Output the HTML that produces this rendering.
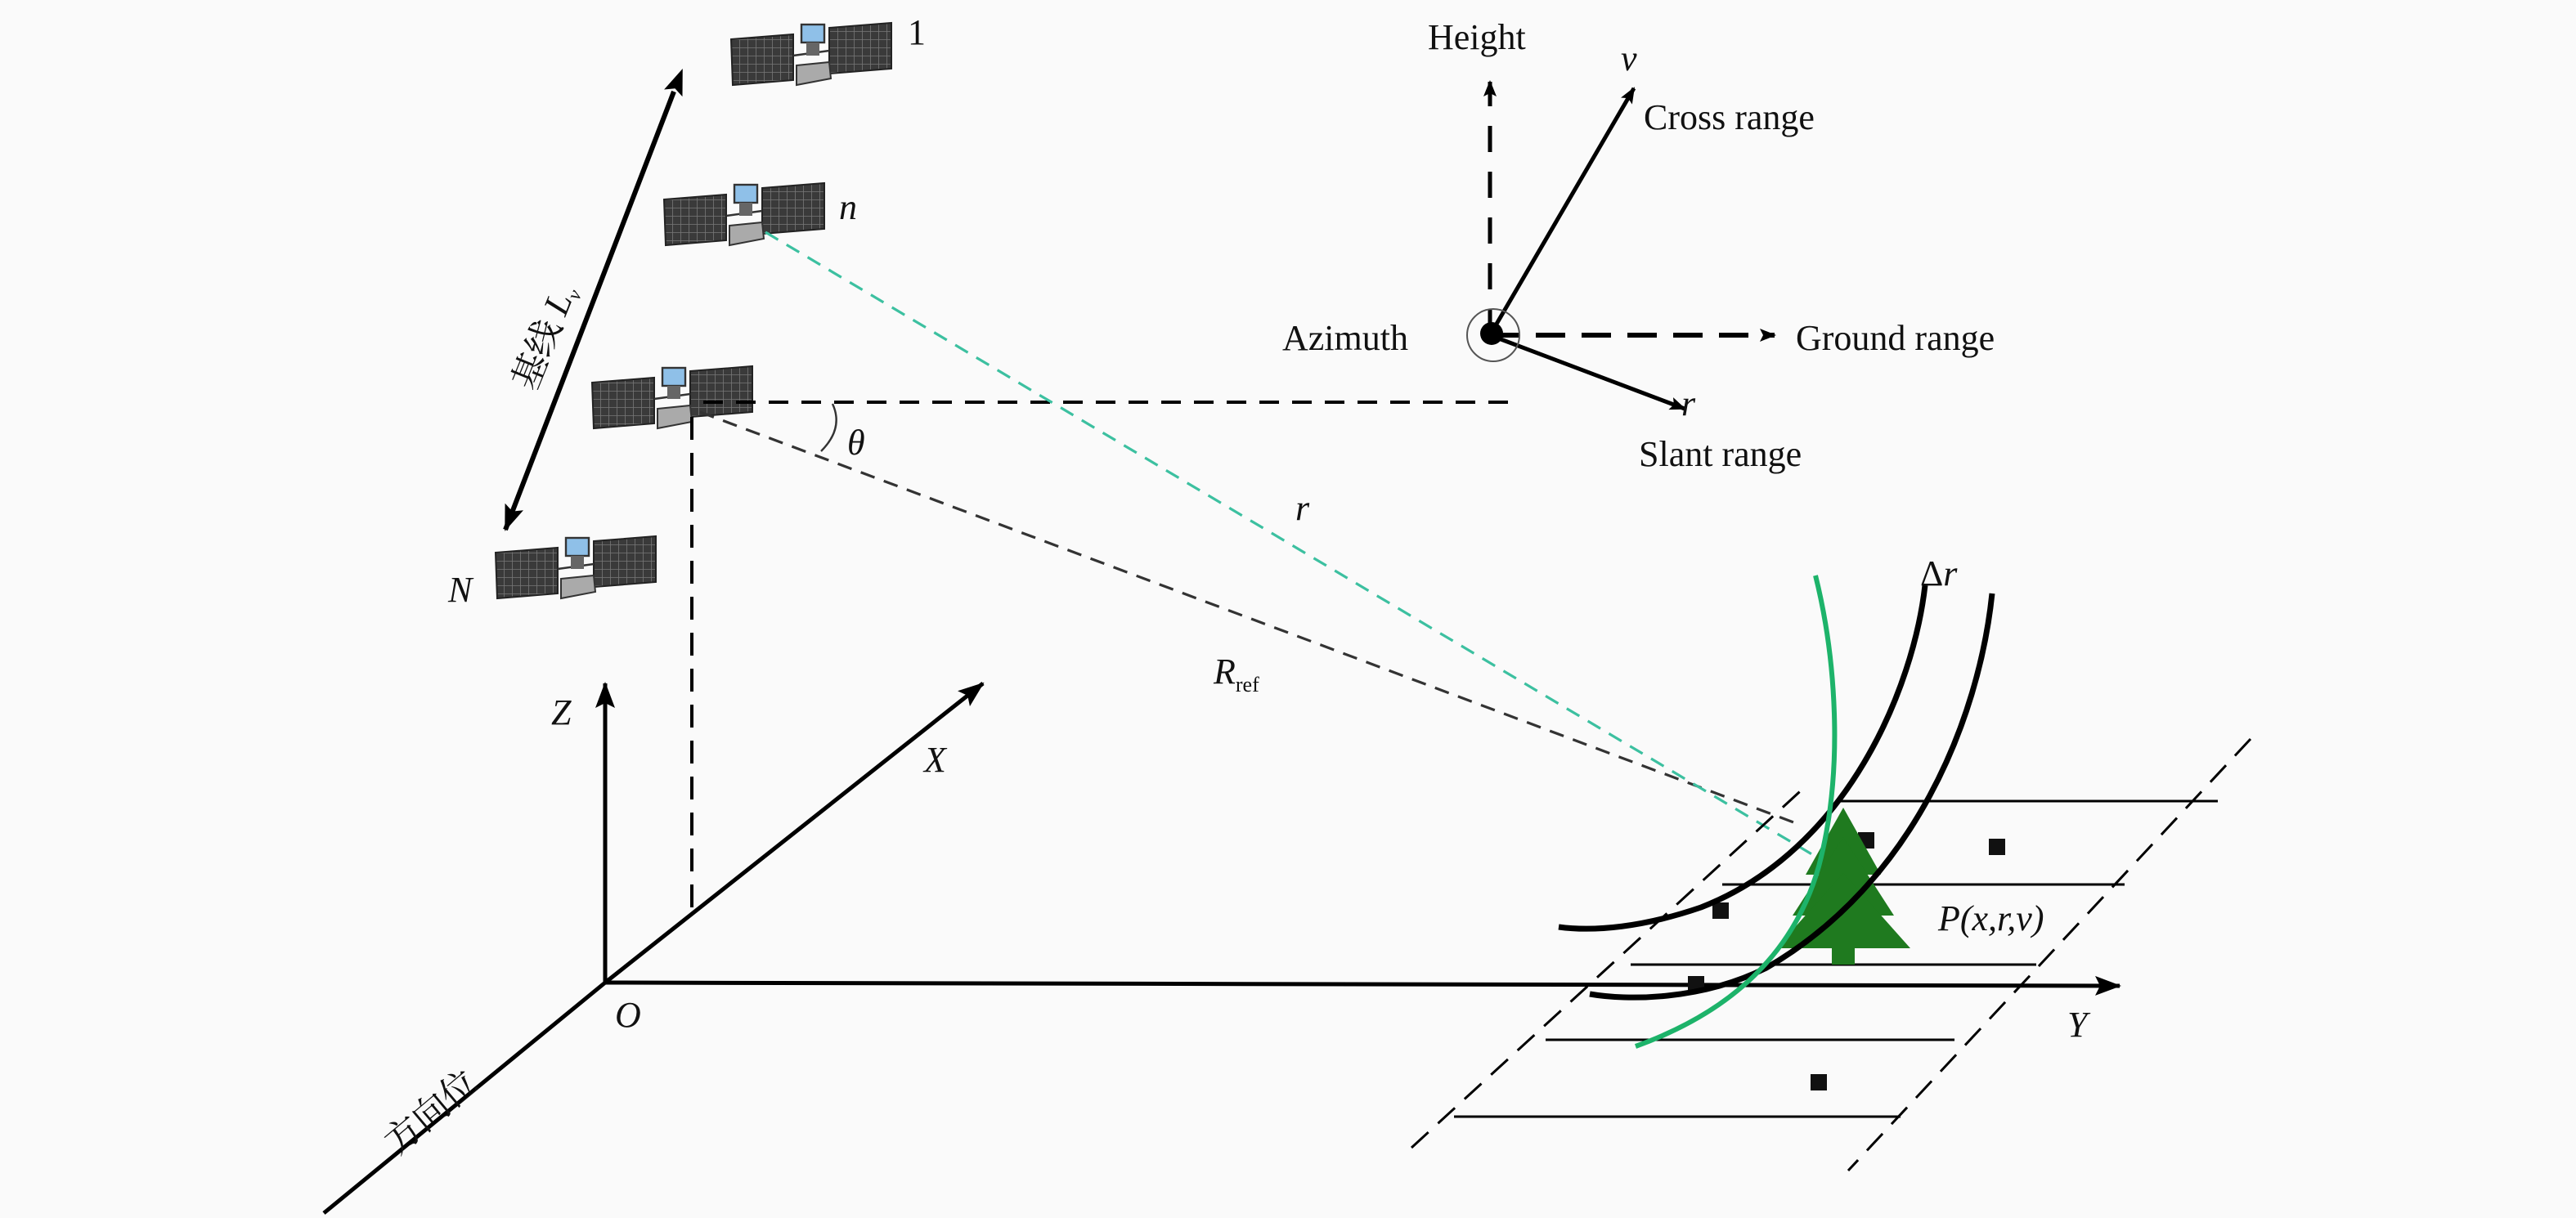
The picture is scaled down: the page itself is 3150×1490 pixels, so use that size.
<!DOCTYPE html>
<html><head><meta charset="utf-8"><style>
html,body{margin:0;padding:0;background:#fafafa;}
svg{display:block;}
text{font-family:"Liberation Serif","Noto Serif CJK SC",serif;fill:#111;}
.it{font-style:italic;}
</style></head><body>
<svg width="3150" height="1490" viewBox="0 0 1575 745" xmlns="http://www.w3.org/2000/svg">
<defs>
<marker id="ah" markerWidth="10" markerHeight="8" refX="9" refY="4" orient="auto" markerUnits="userSpaceOnUse"><path d="M0,0 L10,4 L0,8 L2,4 Z" fill="#000"/></marker>
<marker id="ahb" markerWidth="16" markerHeight="12" refX="15" refY="6" orient="auto" markerUnits="userSpaceOnUse"><path d="M0,0 L16,6 L0,12 L3,6 Z" fill="#000"/></marker>
<marker id="ahs" markerWidth="16" markerHeight="12" refX="1" refY="6" orient="auto-start-reverse" markerUnits="userSpaceOnUse"><path d="M0,0 L16,6 L0,12 L3,6 Z" fill="#000"/></marker>
<pattern id="grid" width="5" height="5" patternUnits="userSpaceOnUse"><rect width="5" height="5" fill="#3a3a3a"/><path d="M0,0H5M0,0V5" stroke="#777" stroke-width="0.8"/></pattern>
<g id="sat">
  <polygon points="0,10 38,7 38,35 1,38" fill="url(#grid)" stroke="#222" stroke-width="1"/>
  <polygon points="60,3 98,0 98,28 60,31" fill="url(#grid)" stroke="#222" stroke-width="1"/>
  <line x1="38" y1="20" x2="60" y2="17" stroke="#333" stroke-width="1.2"/>
  <rect x="43" y="1" width="14" height="11" fill="#8fc0e8" stroke="#333" stroke-width="1.2"/>
  <rect x="46" y="12" width="8" height="8" fill="#666"/>
  <polygon points="40,26 60,24 61,34 40,38" fill="#aaa" stroke="#333" stroke-width="1"/>
</g>
</defs>
<rect width="1575" height="745" fill="#fafafa"/>

<use href="#sat" x="447" y="14"/>
<use href="#sat" x="406" y="112"/>
<use href="#sat" x="362" y="224"/>
<use href="#sat" x="303" y="328"/>
<text x="555" y="27" font-size="22">1</text>
<text x="513" y="134" font-size="22" class="it">n</text>
<text x="274" y="368" font-size="22" class="it">N</text>

<line x1="412" y1="56" x2="309" y2="324" stroke="#000" stroke-width="3" marker-start="url(#ahs)" marker-end="url(#ahb)"/>
<text transform="translate(327,240) rotate(-68)" font-size="22">基线 <tspan class="it">L</tspan><tspan font-size="12" dy="4" class="it">v</tspan></text>

<line x1="430" y1="246" x2="930" y2="246" stroke="#000" stroke-width="2" stroke-dasharray="12,8"/>
<line x1="423" y1="255" x2="423" y2="562" stroke="#000" stroke-width="2" stroke-dasharray="14,8"/>
<line x1="428" y1="252" x2="1102" y2="505" stroke="#333" stroke-width="1.6" stroke-dasharray="9,6"/>
<line x1="468" y1="142" x2="1112" y2="525" stroke="#3cc0a0" stroke-width="1.6" stroke-dasharray="9,6"/>
<path d="M509,247 Q516,262 502,276" fill="none" stroke="#333" stroke-width="1.2"/>
<text x="518" y="278" font-size="22" class="it">θ</text>
<text x="792" y="318" font-size="22" class="it">r</text>
<text x="742" y="418" font-size="22" class="it">R<tspan font-size="13" dy="5" font-style="normal">ref</tspan></text>

<line x1="370" y1="601" x2="370" y2="418" stroke="#000" stroke-width="2.5" marker-end="url(#ahb)"/>
<line x1="370" y1="601" x2="601" y2="418" stroke="#000" stroke-width="2.5" marker-end="url(#ahb)"/>
<line x1="370" y1="601" x2="1296" y2="603" stroke="#000" stroke-width="2.5" marker-end="url(#ahb)"/>
<line x1="370" y1="601" x2="198" y2="742" stroke="#000" stroke-width="2.5"/>
<text x="337" y="443" font-size="22" class="it">Z</text>
<text x="565" y="472" font-size="22" class="it">X</text>
<text x="1264" y="634" font-size="22" class="it">Y</text>
<text x="376" y="628" font-size="22" class="it">O</text>
<text transform="translate(243,707) rotate(-40)" font-size="22">方向位</text>

<line x1="911" y1="205" x2="911" y2="50" stroke="#000" stroke-width="2.5" stroke-dasharray="16,12" marker-end="url(#ah)"/>
<line x1="911" y1="205" x2="999" y2="54" stroke="#000" stroke-width="2.5" marker-end="url(#ah)"/>
<line x1="911" y1="205" x2="1085" y2="205" stroke="#000" stroke-width="3" stroke-dasharray="18,10" marker-end="url(#ah)"/>
<line x1="911" y1="205" x2="1030" y2="250" stroke="#000" stroke-width="2.5" marker-end="url(#ah)"/>
<circle cx="913" cy="205" r="16" fill="none" stroke="#555" stroke-width="1"/>
<circle cx="912" cy="204" r="7" fill="#000"/>
<text x="873" y="30" font-size="22">Height</text>
<text x="991" y="43" font-size="22" class="it">v</text>
<text x="1005" y="79" font-size="22">Cross range</text>
<text x="784" y="214" font-size="22">Azimuth</text>
<text x="1098" y="214" font-size="22">Ground range</text>
<text x="1028" y="254" font-size="22" class="it">r</text>
<text x="1002" y="285" font-size="22">Slant range</text>

<g stroke="#000" stroke-width="1.5" fill="none">
<line x1="863" y1="702" x2="1105" y2="480" stroke-dasharray="14,8"/>
<line x1="1376" y1="452" x2="1130" y2="716" stroke-dasharray="14,8"/>
<line x1="1124" y1="490" x2="1356" y2="490"/>
<line x1="1053" y1="541" x2="1299" y2="541"/>
<line x1="997" y1="590" x2="1245" y2="590"/>
<line x1="945" y1="636" x2="1195" y2="636"/>
<line x1="889" y1="683" x2="1162" y2="683"/>
</g>
<g fill="#111">
<rect x="1136" y="509" width="10" height="10"/>
<rect x="1216" y="513" width="10" height="10"/>
<rect x="1047" y="552" width="10" height="10"/>
<rect x="1032" y="597" width="10" height="10"/>
<rect x="1107" y="657" width="10" height="10"/>
</g>

<g fill="#1f7a1f">
<polygon points="1127,494 1150,535 1104,535"/>
<polygon points="1127,512 1158,560 1096,560"/>
<polygon points="1127,534 1168,580 1086,580"/>
<rect x="1120" y="578" width="14" height="12"/>
</g>

<path d="M1177,358 C1170,420 1130,520 1040,555 C1005,567 975,570 953,567" fill="none" stroke="#000" stroke-width="3.5"/>
<path d="M1218,363 C1210,440 1170,540 1080,592 C1040,612 995,612 972,608" fill="none" stroke="#000" stroke-width="3.5"/>
<path d="M1110,352 C1122,400 1128,470 1112,530 C1095,590 1050,622 1000,640" fill="none" stroke="#1db36a" stroke-width="3"/>
<text x="1174" y="358" font-size="22">Δ<tspan class="it">r</tspan></text>
<text x="1185" y="569" font-size="22" class="it">P(x,r,v)</text>
</svg>
</body></html>
